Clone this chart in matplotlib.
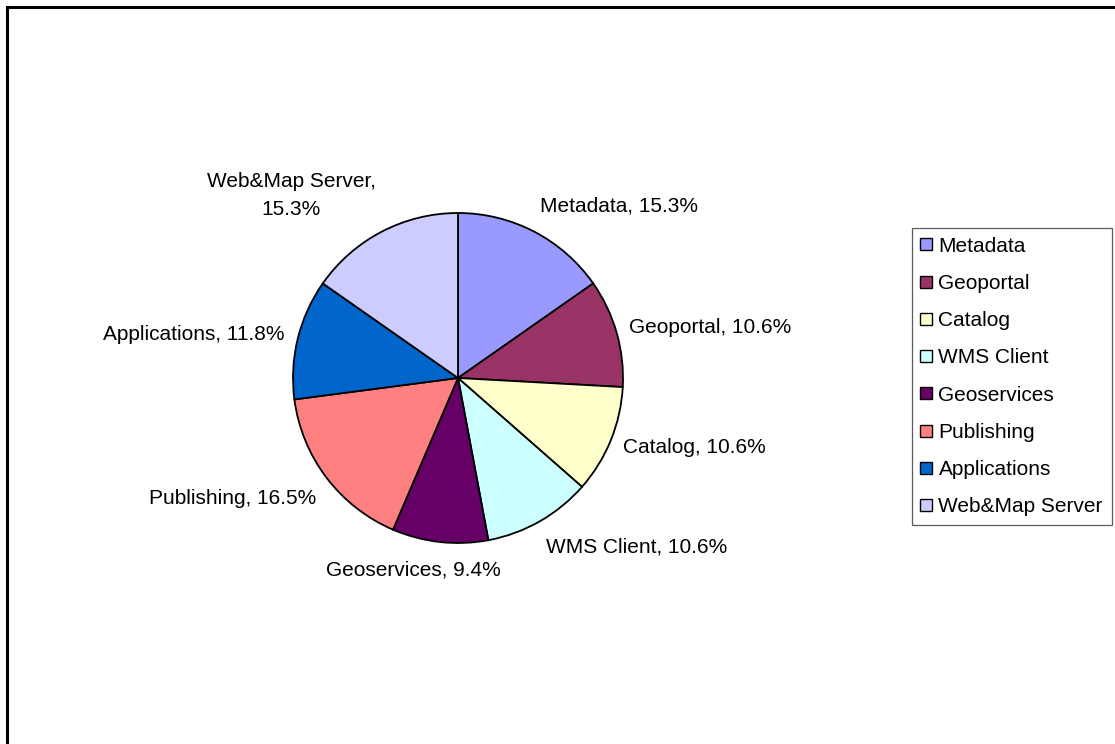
#!/usr/bin/env python3

import numpy as np
import matplotlib.pyplot as plt
from matplotlib.lines import Line2D

plt.rcParams['font.family'] = ['Liberation Sans', 'DejaVu Sans']

categories = ["Metadata", "Geoportal", "Catalog", "WMS Client",
              "Geoservices", "Publishing", "Applications", "Web&Map Server"]
values = [15.3, 10.6, 10.6, 10.6, 9.4, 16.5, 11.8, 15.3]
point_labels = ["Metadata, 15.3%", "Geoportal, 10.6%", "Catalog, 10.6%",
                "WMS Client, 10.6%", "Geoservices, 9.4%", "Publishing, 16.5%",
                "Applications, 11.8%", "Web&Map Server,\n15.3%"]
colors = ["#9999FF", "#993366", "#FFFFCC", "#CCFFFF",
          "#660066", "#FF8080", "#0066CC", "#CCCCFF"]

W, H = 1115, 744
fig = plt.figure(figsize=(W / 100, H / 100), dpi=100)

# pie axes: centre (458, 378) px, radius 165 px
cx, cy, r = 458, 378, 165
half = 220
ax = fig.add_axes([(cx - half) / W, 1 - (cy + half) / H, 2 * half / W, 2 * half / H])

wedges, _ = ax.pie(values, colors=colors, startangle=90, counterclock=False,
                   radius=1.0, wedgeprops=dict(edgecolor='black', linewidth=1.3))
ax.set_xlim(-half / r, half / r)
ax.set_ylim(-half / r, half / r)
ax.set_aspect('equal')
ax.axis('off')

# Excel pushes the bottom label a little to the left
nudge = {4: (-25, 0), 7: (0, -3)}

for i, (w, lab) in enumerate(zip(wedges, point_labels)):
    mid = np.deg2rad((w.theta1 + w.theta2) / 2)
    c, s = np.cos(mid), np.sin(mid)
    ha = 'left' if c > 0.3 else ('right' if c < -0.3 else 'center')
    va = 'bottom' if s > 0.5 else ('top' if s < -0.5 else 'center')
    dx, dy = nudge.get(i, (0, 0))
    ax.text(1.08 * c + dx / r, 1.11 * s + dy / r, lab, ha=ha, va=va,
            fontsize=15, multialignment='center', linespacing=1.6, clip_on=False)

handles = [Line2D([], [], marker='s', linestyle='none', markersize=8,
                  markerfacecolor=col, markeredgecolor='black', markeredgewidth=1.0)
           for col in colors]
leg = fig.legend(handles, categories, loc='upper left',
                 bbox_to_anchor=(912 / W, 1 - 228 / H), fontsize=15,
                 frameon=True, fancybox=False, borderpad=0.42, labelspacing=0.875,
                 handlelength=0.5, handletextpad=0.35, borderaxespad=0)
leg.get_frame().set_edgecolor('#333333')
leg.get_frame().set_linewidth(0.9)

# outer chart frame (top and left edges visible)
fig.add_artist(Line2D([7 / W, 7 / W], [0, 1 - 7 / H], color='black', lw=2.2))
fig.add_artist(Line2D([7 / W, 1], [1 - 7 / H, 1 - 7 / H], color='black', lw=2.2))

fig.savefig("out.png", dpi=100)
